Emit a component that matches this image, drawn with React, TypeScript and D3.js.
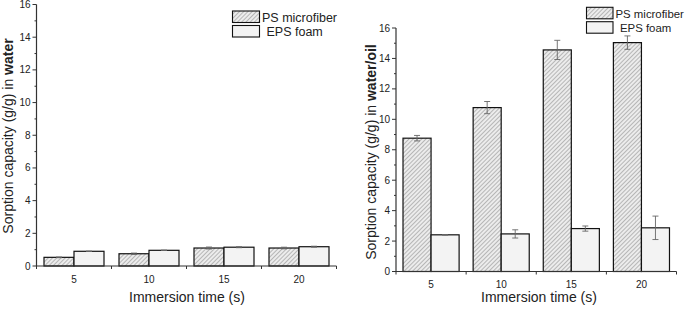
import React from "react";
import * as d3 from "d3";

const categories = ["5", "10", "15", "20"];
const seriesNames = ["PS microfiber", "EPS foam"];
// Panel A: water
const waterPS = [0.53, 0.75, 1.1, 1.1];
const waterPSErr = [0.02, 0.04, 0.06, 0.05];
const waterEPS = [0.9, 0.96, 1.15, 1.18];
const waterEPSErr = [0.01, 0.01, 0.03, 0.03];
// Panel B: water/oil
const oilPS = [8.76, 10.77, 14.56, 15.04];
const oilPSErr = [0.18, 0.4, 0.63, 0.44];
const oilEPS = [2.41, 2.47, 2.82, 2.87];
const oilEPSErr = [0.02, 0.27, 0.17, 0.77];
const yTicks = [0, 2, 4, 6, 8, 10, 12, 14, 16];
const yMinor = [1, 3, 5, 7, 9, 11, 13, 15];

const FONT = "'Liberation Sans', Arial, sans-serif";
const AXIS = "#333";
const TEXT = "#222";

type PanelProps = {
  x0: number; x1: number; yBottom: number; yTop: number;
  ps: number[]; psErr: number[]; eps: number[]; epsErr: number[];
  titleBold: string; titleX: number; titleY: number;
  xTitleX: number; legendX: number; legendY: number; labelDy: number;
  legendFont: number; legendW: number; legendH: number; legendGap: number;
};

function Panel(p: PanelProps) {
  const x = d3.scaleBand<string>().domain(categories).range([p.x0, p.x1]).padding(0);
  const y = d3.scaleLinear().domain([0, 16]).range([p.yBottom, p.yTop]);
  const bw = x.bandwidth();
  const barW = bw * 0.4;
  const boundaries = categories.map((c) => x(c)!).concat([p.x1]);
  const series = [
    { vals: p.ps, errs: p.psErr, fill: "url(#hatch)", off: 0.1 },
    { vals: p.eps, errs: p.epsErr, fill: "#f3f3f3", off: 0.5 },
  ];
  return (
    <g>
      {series.map((s, si) =>
        categories.map((c, i) => {
          const bx = x(c)! + bw * s.off;
          const top = y(s.vals[i]);
          const cx = bx + barW / 2;
          const e1 = y(s.vals[i] + s.errs[i]);
          const e0 = y(s.vals[i] - s.errs[i]);
          return (
            <g key={`${si}-${i}`}>
              <rect x={bx} y={top} width={barW} height={y(0) - top} fill={s.fill} stroke="#111" strokeWidth={1.2} />
              <line x1={cx} x2={cx} y1={e1} y2={e0} stroke="#666" strokeWidth={0.9} />
              <line x1={cx - 3} x2={cx + 3} y1={e1} y2={e1} stroke="#666" strokeWidth={0.9} />
              <line x1={cx - 3} x2={cx + 3} y1={e0} y2={e0} stroke="#666" strokeWidth={0.9} />
            </g>
          );
        })
      )}
      {/* axes */}
      <line x1={p.x0} x2={p.x0} y1={p.yBottom} y2={p.yTop} stroke={AXIS} strokeWidth={1.2} />
      <line x1={p.x0} x2={p.x1} y1={p.yBottom} y2={p.yBottom} stroke={AXIS} strokeWidth={1.2} />
      {yTicks.map((t) => (
        <g key={"yt" + t}>
          <line x1={p.x0 - 4} x2={p.x0} y1={y(t)} y2={y(t)} stroke={AXIS} strokeWidth={1} />
          <text x={p.x0 - 6} y={y(t)} dy="0.35em" textAnchor="end" fontSize={10} fontFamily={FONT} fill={TEXT}>{t}</text>
        </g>
      ))}
      {yMinor.map((t) => (
        <line key={"ym" + t} x1={p.x0 - 2} x2={p.x0} y1={y(t)} y2={y(t)} stroke={AXIS} strokeWidth={1} />
      ))}
      {boundaries.map((b, i) => (
        <line key={"xb" + i} x1={b} x2={b} y1={p.yBottom} y2={p.yBottom + 3} stroke={AXIS} strokeWidth={1} />
      ))}
      {categories.map((c) => (
        <text key={"xl" + c} x={x(c)! + bw / 2} y={p.yBottom + p.labelDy} textAnchor="middle" fontSize={10} fontFamily={FONT} fill={TEXT}>{c}</text>
      ))}
      <text x={p.xTitleX} y={302} textAnchor="middle" fontSize={14} fontFamily={FONT} fill={TEXT}>Immersion time (s)</text>
      <text transform={`translate(${p.titleX},${p.titleY}) rotate(-90)`} textAnchor="middle" fontSize={14} fontFamily={FONT} fill={TEXT}>
        Sorption capacity (g/g) in <tspan fontWeight="bold">{p.titleBold}</tspan>
      </text>
      {/* legend */}
      {seriesNames.map((n, i) => (
        <g key={"lg" + n}>
          <rect x={p.legendX} y={p.legendY + i * p.legendGap} width={p.legendW} height={p.legendH} fill={i === 0 ? "url(#hatch)" : "#f3f3f3"} stroke="#111" strokeWidth={1.1} />
          <text x={p.legendX + p.legendW + (i === 0 ? 2.5 : 7)} y={p.legendY + i * p.legendGap + p.legendH - 1} fontSize={p.legendFont} fontFamily={FONT} fill={TEXT}>{n}</text>
        </g>
      ))}
    </g>
  );
}

export default function App() {
  return (
    <svg width={685} height={311} style={{ position: "absolute", left: 0, top: 0, background: "#fff" }}>
      <defs>
        <pattern id="hatch" patternUnits="userSpaceOnUse" width={3} height={3} patternTransform="rotate(45)">
          <rect width={3} height={3} fill="#ececec" />
          <line x1={0} y1={0} x2={0} y2={3} stroke="#8a8a8a" strokeWidth={1.1} />
        </pattern>
      </defs>
      <rect width={685} height={311} fill="#fff" />
      <Panel x0={36.5} x1={336.5} yBottom={266} yTop={4.5}
        ps={waterPS} psErr={waterPSErr} eps={waterEPS} epsErr={waterEPSErr}
        titleBold="water" titleX={13} titleY={136} xTitleX={187}
        legendX={232.5} legendY={11} labelDy={17}
        legendFont={12.5} legendW={27} legendH={11.5} legendGap={14.5} />
      <Panel x0={396} x1={676.5} yBottom={271.5} yTop={28}
        ps={oilPS} psErr={oilPSErr} eps={oilEPS} epsErr={oilEPSErr}
        titleBold="water/oil" titleX={376} titleY={152} xTitleX={539}
        legendX={586.5} legendY={7.3} labelDy={16}
        legendFont={11.4} legendW={26.5} legendH={11.5} legendGap={14.4} />
    </svg>
  );
}
